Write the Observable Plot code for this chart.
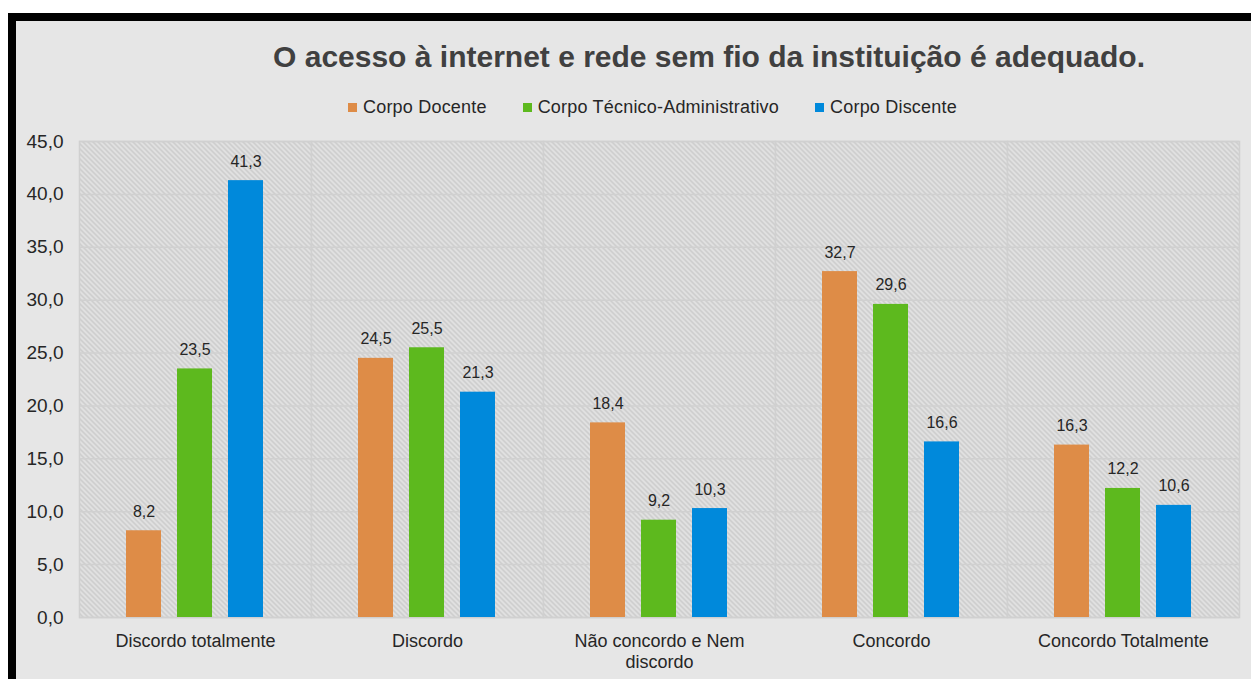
<!DOCTYPE html>
<html>
<head>
<meta charset="utf-8">
<script src="https://cdn.jsdelivr.net/npm/d3@7"></script>
<script src="https://cdn.jsdelivr.net/npm/@observablehq/plot@0.6"></script>
<style>
  html, body { margin: 0; padding: 0; background: #ffffff; width: 1251px; height: 679px; overflow: hidden; }
  #frame {
    position: absolute; left: 8px; top: 13px;
    width: 1235px; height: 658px;
    border-left: 8px solid #000; border-top: 8px solid #000;
    background: #e6e6e6; overflow: hidden;
    font-family: "Liberation Sans", Arial, sans-serif;
  }
  #title {
    position: absolute; left: 693px; top: 19px; transform: translateX(-50%);
    white-space: nowrap; font-weight: bold; font-size: 30px; color: #404040;
  }
  #legend {
    position: absolute; left: 332px; top: 76px; display: flex; align-items: center;
    font-size: 18px; color: #262626; white-space: nowrap; letter-spacing: 0.2px;
  }
  #legend .item { display: flex; align-items: center; margin-right: 36px; }
  #legend .sw { width: 9px; height: 9px; margin-right: 6px; }
  #chart { position: absolute; left: 0; top: 100px; }
</style>
</head>
<body>
<svg width="0" height="0" style="position:absolute">
  <defs>
    <pattern id="hatch" patternUnits="userSpaceOnUse" width="5" height="5">
      <rect width="5" height="5" fill="#e3e3e3"></rect>
      <path d="M0,0 L5,5 M-1,4 L1,6 M4,-1 L6,1" stroke="#c6c6c6" stroke-width="1.3"></path>
    </pattern>
  </defs>
</svg>
<div id="frame">
  <div id="title"></div>
  <div id="legend"></div>
  <div id="chart"></div>
</div>
<script>
const titleText = "O acesso à internet e rede sem fio da instituição é adequado.";
const categories = ["Discordo totalmente", "Discordo", "Não concordo e Nem discordo", "Concordo", "Concordo Totalmente"];
const categoryLabels = ["Discordo totalmente", "Discordo", "Não concordo e Nem\ndiscordo", "Concordo", "Concordo Totalmente"];
const series = ["Corpo Docente", "Corpo Técnico-Administrativo", "Corpo Discente"];
const colors = ["#de8c47", "#5db91e", "#0089db"];
const docente = [8.2, 24.5, 18.4, 32.7, 16.3];
const tecnico = [23.5, 25.5, 9.2, 29.6, 12.2];
const discente = [41.3, 21.3, 10.3, 16.6, 10.6];
const yTicks = [0, 5, 10, 15, 20, 25, 30, 35, 40, 45];

const seriesValues = [docente, tecnico, discente];
const data = [];
categories.forEach((c, i) => {
  series.forEach((s, j) => data.push({category: c, series: s, value: seriesValues[j][i]}));
});
const fmt = v => v.toFixed(1).replace(".", ",");

document.getElementById("title").textContent = titleText;
const legend = d3.select("#legend");
series.forEach((s, j) => {
  const it = legend.append("div").attr("class", "item");
  it.append("div").attr("class", "sw").style("background", colors[j]);
  it.append("span").text(s);
});

const plot = Plot.plot({
  width: 1235,
  height: 558,
  marginTop: 20,
  marginBottom: 62,
  marginLeft: 62,
  marginRight: 11,
  style: {fontFamily: "'Liberation Sans', Arial, sans-serif", fontSize: "16px", color: "#262626", background: "transparent"},
  fx: {domain: categories, padding: 0, label: null},
  x: {domain: series, paddingInner: 0.31, paddingOuter: 0.91, axis: null},
  y: {domain: [0, 45], label: null},
  color: {domain: series, range: colors},
  marks: [
    Plot.frame({fill: "url(#hatch)", stroke: "#d0d0d0", strokeWidth: 1.5}),
    Plot.gridY(yTicks, {stroke: "#d0d0d0", strokeOpacity: 1, strokeWidth: 1.5}),
    Plot.barY(data, {fx: "category", x: "series", y: "value", fill: "series"}),
    Plot.text(data, {fx: "category", x: "series", y: "value", text: d => fmt(d.value), lineAnchor: "bottom", dy: -14, fontSize: 16, fill: "#262626"}),
    Plot.axisY(yTicks, {tickSize: 0, tickPadding: 16, tickFormat: fmt, fontSize: 19, fill: "#262626", label: null}),
    Plot.axisFx({anchor: "bottom", tickSize: 0, tickPadding: 14, fontSize: 18, lineHeight: 1.2, fill: "#262626", label: null,
      tickFormat: c => categoryLabels[categories.indexOf(c)]})
  ]
});
document.getElementById("chart").appendChild(plot);
</script>
</body>
</html>
